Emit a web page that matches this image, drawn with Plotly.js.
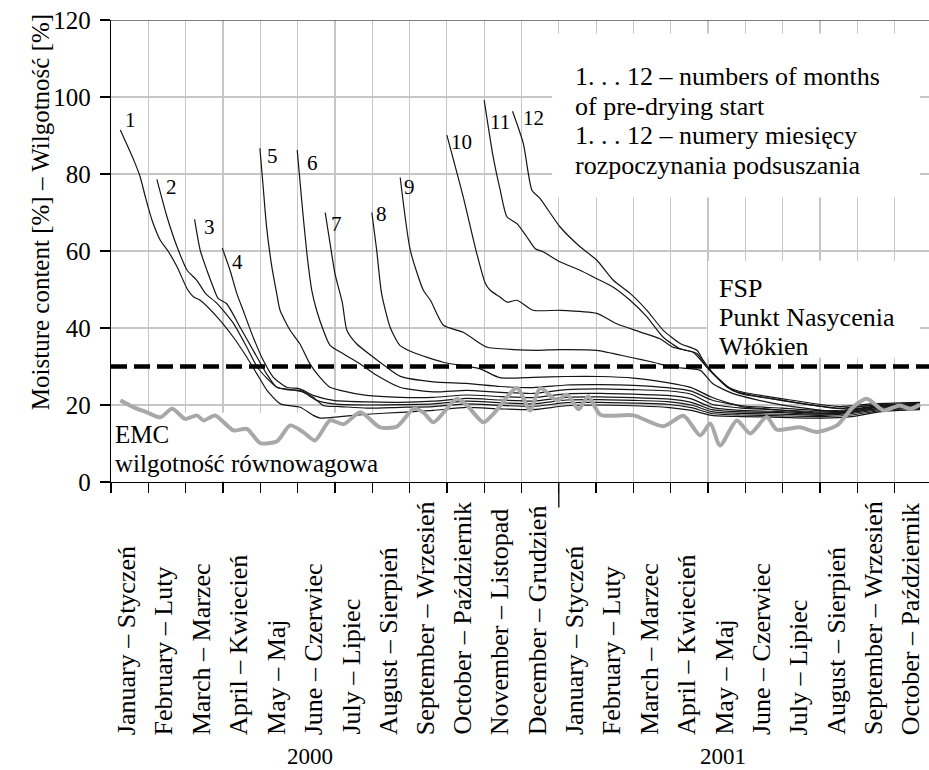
<!DOCTYPE html>
<html>
<head>
<meta charset="utf-8">
<script src="https://cdn.plot.ly/plotly-3.0.1.min.js"></script>
<style>html,body{margin:0;padding:0;background:#fff;}#chart{width:929px;height:770px;}</style>
</head>
<body>
<div id="chart"></div>
<script>
// ---------- DATA (x = months since start of January 2000) ----------
const monthNames = ["January – Styczeń","February – Luty","March – Marzec","April – Kwiecień","May – Maj","June – Czerwiec","July – Lipiec","August – Sierpień","September – Wrzesień","October – Październik","November – Listopad","December – Grudzień"];
const yearLabels = ["2000","2001"];
const curveNames = ["1","2","3","4","5","6","7","8","9","10","11","12"];

const c1x = [0.25,0.61,0.78,0.92,1.10,1.32,1.54,1.77,2.04,2.21,2.39,2.84,3.28,3.64,3.91,4.18,4.54,5.07,5.42,5.61,6.14,6.86,7.75,8.64,9.52,10.43,11.31,12.2,13.1,14.0,14.9,15.55,16.1,16.9,17.96,19.05,19.85,20.65,21.68];
const c1y = [91.4,83.6,79.3,74.1,68.0,62.8,59.8,55.9,50.2,48.1,47.2,42.9,37.6,32.4,28.1,23.8,20.3,19.4,17.3,16.6,17.0,17.6,18.1,18.6,19.4,19.0,18.8,19.8,20.0,19.8,19.4,18.6,17.3,17.0,16.8,16.6,17.0,18.3,18.8];

const c2x = [1.23,1.50,1.77,2.04,2.30,2.53,2.84,3.28,3.64,3.91,4.18,4.45,4.71,5.07,5.42,5.70,6.14,6.86,7.75,8.64,9.52,10.43,11.31,12.2,13.1,14.0,14.9,15.55,16.1,16.9,17.96,19.05,19.85,20.65,21.68];
const c2y = [78.6,68.9,61.1,55.0,52.4,49.0,46.4,41.2,35.0,30.0,26.9,24.6,24.0,23.8,22.0,19.8,19.6,19.2,19.4,19.6,20.3,19.9,19.6,20.6,20.7,20.5,20.2,19.3,17.8,17.4,17.2,17.0,17.4,18.6,19.1];

const c3x = [2.24,2.39,2.57,2.74,2.87,3.10,3.46,3.81,4.17,4.44,4.80,5.15,5.51,5.96,6.85,7.74,8.64,9.52,10.43,11.31,12.2,13.1,14.0,14.9,15.55,16.1,16.9,17.96,19.05,19.85,20.65,21.68];
const c3y = [68.2,60.2,55.0,50.6,47.7,46.3,40.2,34.2,28.1,24.6,24.0,23.3,21.2,20.3,20.0,20.1,20.3,21.0,20.6,20.3,21.3,21.4,21.2,20.9,20.0,18.3,17.8,17.6,17.3,17.8,18.9,19.4];

const c4x = [2.98,3.19,3.37,3.54,3.81,4.08,4.35,4.71,5.06,5.42,5.96,6.85,7.74,8.64,9.52,10.43,11.31,12.2,13.1,14.0,14.9,15.55,16.1,16.9,17.96,19.05,19.85,20.65,21.68];
const c4y = [60.8,55.0,49.0,44.6,37.6,31.6,27.2,24.6,24.2,22.5,21.2,20.8,20.7,21.0,21.7,21.3,21.0,22.0,22.1,21.9,21.6,20.7,18.8,18.2,18.0,17.6,18.1,19.2,19.6];

const c5x = [3.99,4.07,4.17,4.31,4.44,4.53,4.80,5.06,5.33,5.60,5.87,6.14,6.85,7.74,8.64,9.52,10.43,11.31,12.2,13.1,14.0,14.9,15.55,16.1,16.9,17.96,19.05,19.85,20.65,21.68];
const c5y = [86.7,77.6,66.2,55.9,49.0,44.6,39.4,35.9,30.7,27.2,24.6,23.8,22.5,22.0,22.0,22.6,22.2,21.9,22.9,23.0,22.8,22.5,21.6,19.4,18.6,18.3,17.9,18.4,19.5,19.9];

const c6x = [4.99,5.11,5.24,5.38,5.51,5.69,5.87,6.22,6.67,7.12,7.74,8.64,9.52,10.43,11.31,12.2,13.1,14.0,14.9,15.55,16.1,16.9,17.96,19.05,19.85,20.65,21.68];
const c6y = [86.2,73.2,60.2,49.8,44.6,39.4,35.5,33.3,30.7,27.7,24.6,23.4,23.8,23.3,23.0,24.0,24.2,24.0,23.7,22.8,20.2,19.2,18.7,18.2,18.6,19.7,20.1];

const c7x = [5.74,5.87,6.0,6.2,6.32,6.58,7.03,7.39,7.74,8.64,9.52,10.43,11.31,12.2,13.1,14.0,14.9,15.55,16.1,16.9,17.96,19.05,19.85,20.65,21.68];
const c7y = [70.0,62.0,54.2,46.5,39.4,35.9,32.4,29.8,27.5,26.0,25.6,24.8,24.5,25.2,25.3,25.1,24.5,23.6,21.3,19.8,19.2,18.5,18.9,19.9,20.2];

const c8x = [6.99,7.12,7.25,7.48,7.74,8.09,8.90,9.89,10.42,11.31,12.2,13.1,14.0,14.9,15.55,16.1,16.9,17.96,19.05,19.85,20.65,21.68];
const c8y = [70.0,60.2,49.0,40.2,35.5,33.7,31.1,29.4,27.1,27.2,27.4,27.4,27.0,25.8,24.5,22.0,19.6,18.7,17.8,18.2,19.2,19.6];

const c9x = [7.75,8.02,8.37,8.56,8.91,9.44,9.89,10.08,10.78,11.42,12.03,13.02,13.91,14.53,15.07,15.79,16.13,16.69,17.93,19.53,20.34,21.68];
const c9y = [79.1,60.2,49.8,47.2,40.7,38.9,36.0,35.0,34.4,34.2,34.4,34.2,32.4,31.1,29.8,29.0,25.5,22.9,20.1,18.3,19.4,19.9];

const c10x = [9.0,9.44,9.80,10.03,10.16,10.43,10.62,10.88,11.31,12.03,13.02,13.55,14.17,14.71,15.06,15.6,15.97,16.67,17.66,19.53,20.34,21.68];
const c10y = [90.1,74.0,59.4,51.6,49.8,48.0,46.7,47.2,44.6,44.6,43.8,41.1,39.0,37.2,35.0,33.7,29.8,23.8,21.7,19.1,19.9,20.3];

const c11x = [10.0,10.24,10.43,10.61,10.88,11.14,11.37,11.58,12.03,12.57,13.02,13.46,13.91,14.36,14.80,15.25,15.7,15.97,16.51,16.85,18.0,19.53,20.34,21.68];
const c11y = [99.2,84.5,75.8,68.9,67.1,63.7,60.6,59.8,57.2,55.0,52.8,50.6,47.2,42.9,37.6,34.6,33.4,29.8,24.6,23.0,21.2,19.1,19.9,20.4];

const c12x = [10.76,11.05,11.28,11.5,12.03,12.57,13.02,13.46,13.91,14.36,14.80,15.25,15.7,15.87,16.14,16.51,16.85,18.0,19.53,20.34,21.68];
const c12y = [96.3,87.9,75.8,73.6,66.3,61.1,57.6,52.4,49.0,44.6,39.4,36.0,34.2,31.6,28.2,24.8,23.5,21.6,19.6,20.3,20.7];

const emcX = [0.25,0.61,0.96,1.32,1.64,1.99,2.30,2.48,2.79,3.28,3.64,4.00,4.45,4.80,5.16,5.47,5.87,6.23,6.68,7.21,7.66,8.11,8.37,8.64,9.27,9.54,9.98,10.25,10.88,11.23,11.50,11.95,12.22,12.53,12.79,13.11,14.00,14.80,15.34,15.79,16.06,16.32,16.77,17.13,17.57,17.84,18.46,18.91,19.45,19.89,20.25,20.70,21.14,21.41,21.68];
const emcY = [21.2,19.4,18.1,16.8,19.0,16.4,17.3,16.0,17.3,13.4,13.8,10.1,10.6,14.7,12.9,10.8,16.0,15.0,18.1,14.2,14.4,19.0,18.1,15.5,21.6,19.9,15.5,17.7,24.4,18.6,24.4,21.2,22.7,18.9,22.3,17.5,17.3,14.5,17.2,12.1,15.2,9.5,16.0,12.6,16.9,13.6,14.2,13.0,14.7,19.5,21.6,18.6,19.9,19.0,20.1];

const fspX = [0, 21.92];
const fspY = [30, 30];

const yTicks = [0,20,40,60,80,100,120];

// ---------- LAYOUT CONFIG ----------
const FONT = "Liberation Serif";
const curvesX = [c1x,c2x,c3x,c4x,c5x,c6x,c7x,c8x,c9x,c10x,c11x,c12x];
const curvesY = [c1y,c2y,c3y,c4y,c5y,c6y,c7y,c8y,c9y,c10y,c11y,c12y];
const numLabelPos = [[0.53,93.9],[1.63,76.6],[2.63,66.2],[3.40,57.1],[4.32,84.8],[5.39,82.9],[6.03,67.1],[7.24,69.6],[8.01,76.6],[9.40,88.3],[10.42,93.4],[11.33,94.6]];

const traces = [];
curvesX.forEach((xs, i) => {
  traces.push({x: xs, y: curvesY[i], type: 'scatter', mode: 'lines', name: curveNames[i],
    line: {color: '#151515', width: 1.2, shape: 'spline', smoothing: 0.6}, hoverinfo: 'skip'});
});
traces.push({x: emcX, y: emcY, type: 'scatter', mode: 'lines', name: 'EMC',
  line: {color: '#a8a8a8', width: 4, shape: 'spline', smoothing: 0.7}, hoverinfo: 'skip'});
traces.push({x: fspX, y: fspY, type: 'scatter', mode: 'lines', name: 'FSP',
  line: {color: '#000', width: 4.5, dash: '16px,7px'}, hoverinfo: 'skip'});

const allMonths = monthNames.concat(monthNames.slice(0, 10));
const annotations = [];
allMonths.forEach((m, i) => {
  annotations.push({text: m, x: i + 0.5, xref: 'x', y: -0.552, yref: 'paper',
    xanchor: 'center', yanchor: 'bottom', textangle: -90, showarrow: false, xshift: -3,
    font: {family: FONT, size: 26, color: '#000'}});
});
[[5.33, yearLabels[0]], [16.40, yearLabels[1]]].forEach(([x, t]) => {
  annotations.push({text: t, x: x, xref: 'x', y: -0.594, yref: 'paper', xanchor: 'center', yanchor: 'middle',
    showarrow: false, font: {family: FONT, size: 23, color: '#000'}});
});
curveNames.forEach((n, i) => {
  annotations.push({text: n, x: numLabelPos[i][0], y: numLabelPos[i][1], xref: 'x', yref: 'y',
    showarrow: false, xanchor: 'center', yanchor: 'middle', font: {family: FONT, size: 21, color: '#000'}});
});
const textLines = [
  ["1. . . 12 – numbers of months", 12.42, 105.3, 26],
  ["of pre-drying start", 12.42, 97.5, 26],
  ["1. . . 12 – numery miesięcy", 12.42, 89.9, 26],
  ["rozpoczynania podsuszania", 12.42, 82.3, 26],
  ["FSP", 16.27, 50.3, 26],
  ["Punkt Nasycenia", 16.27, 42.7, 26],
  ["Włókien", 16.27, 35.2, 26],
  ["EMC", 0.08, 12.4, 25],
  ["wilgotność równowagowa", 0.08, 4.8, 25]
];
textLines.forEach(([t, x, y, s]) => {
  annotations.push({text: t, x: x, y: y, xref: 'x', yref: 'y', xanchor: 'left', yanchor: 'middle',
    showarrow: false, borderpad: 0, font: {family: FONT, size: s, color: '#000'}});
});
annotations.push({text: 'Moisture content [%] – Wilgotność [%]', x: -0.0868, y: 0.584, xref: 'paper', yref: 'paper',
  textangle: -90, showarrow: false, xanchor: 'center', yanchor: 'middle', font: {family: FONT, size: 25, color: '#000'}});

const whiteBox = (x0, x1, y0, y1) => ({type: 'rect', xref: 'x', yref: 'y', x0, x1, y0, y1,
  fillcolor: '#ffffff', line: {width: 0}, layer: 'between'});
const shapes = [
  whiteBox(11.82, 21.68, 73.9, 116.5),
  whiteBox(16.0, 21.68, 32.3, 57.5),
  whiteBox(0.05, 7.34, 0.2, 18.0),
  {type: 'line', xref: 'paper', yref: 'y', x0: 0, x1: 1, y0: 120, y1: 120, line: {color: '#555', width: 1.5}, layer: 'above'},
  {type: 'line', xref: 'x', yref: 'paper', x0: 12, x1: 12, y0: 0, y1: -0.055, line: {color: '#000', width: 1.3}, layer: 'above'}
];

const xTickVals = [];
for (let i = 0; i <= 22; i++) xTickVals.push(i);

const layout = {
  width: 929, height: 770,
  margin: {l: 111, r: 0, t: 20, b: 288, pad: 0},
  paper_bgcolor: '#fff', plot_bgcolor: '#fff',
  showlegend: false,
  font: {family: FONT, size: 25, color: '#000'},
  xaxis: {range: [0, 21.92], tickmode: 'array', tickvals: xTickVals, showticklabels: false,
    ticks: 'outside', ticklen: 10, tickwidth: 1.3, tickcolor: '#000',
    showgrid: true, gridcolor: '#c6c6c6', gridwidth: 1.2,
    showline: true, linecolor: '#000', linewidth: 1.3, zeroline: false, fixedrange: true},
  yaxis: {range: [0, 120], tickmode: 'array', tickvals: yTicks, ticktext: yTicks.map(String),
    ticks: 'outside', ticklen: 10, tickwidth: 1.3, tickcolor: '#000', ticklabelstandoff: 4,
    showgrid: true, gridcolor: '#c6c6c6', gridwidth: 1.2,
    showline: true, linecolor: '#000', linewidth: 1.3, zeroline: false, fixedrange: true,
    tickfont: {family: FONT, size: 25, color: '#000'}},
  shapes: shapes,
  annotations: annotations
};

Plotly.newPlot('chart', traces, layout, {displayModeBar: false, staticPlot: true});
</script>
</body>
</html>
